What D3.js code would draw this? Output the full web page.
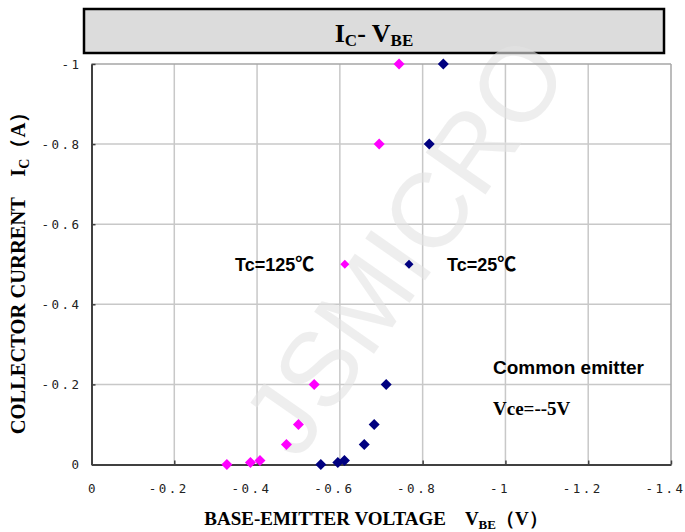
<!DOCTYPE html>
<html>
<head>
<meta charset="utf-8">
<script src="https://cdn.jsdelivr.net/npm/d3@7"></script>
<style>
  body { margin: 0; background: #fff; }
  svg { display: block; }
</style>
</head>
<body>
<svg id="chart"></svg>
<script>
// collector current (A) for each measured point
var icValues = [0, 0.005, 0.01, 0.05, 0.1, 0.2, 0.8, 1.0];
// base-emitter voltage (V) at Tc=125C and Tc=25C
var vbe125 = [0.327, 0.384, 0.407, 0.471, 0.5, 0.538, 0.695, 0.743];
var vbe25 = [0.554, 0.595, 0.611, 0.659, 0.683, 0.712, 0.816, 0.85];

// legend markers sit beside the labels
var legendItems = [
  { label: "Tc=125", vbe: 0.612, ic: 0.5, color: "#ff00ff" },
  { label: "Tc=25", vbe: 0.767, ic: 0.5, color: "#000080" }
];

var xTicks = [0, 0.2, 0.4, 0.6, 0.8, 1, 1.2, 1.4];
var xTickLabels = ["0", "-0.2", "-0.4", "-0.6", "-0.8", "-1", "-1.2", "-1.4"];
var yTicks = [0, 0.2, 0.4, 0.6, 0.8, 1];
var yTickLabels = ["0", "-0.2", "-0.4", "-0.6", "-0.8", "-1"];

var W = 685, H = 532;
var margin = { top: 64, right: 14, bottom: 67.5, left: 91.5 };
var w = W - margin.left - margin.right,
    h = H - margin.top - margin.bottom;

var serif = "'Liberation Serif', 'Times New Roman', serif";
var sans = "'Liberation Sans', Arial, sans-serif";

var svg = d3.select("#chart").attr("width", W).attr("height", H);

// title box
svg.append("rect")
  .attr("x", 84).attr("y", 9)
  .attr("width", 580).attr("height", 44)
  .attr("fill", "#dcdcdc")
  .attr("stroke", "#000")
  .attr("stroke-width", 2.5);

var title = svg.append("text")
  .attr("x", 374).attr("y", 42)
  .attr("text-anchor", "middle")
  .style("font-family", serif)
  .style("font-weight", "bold")
  .style("font-size", "26px");
title.append("tspan").text("I");
title.append("tspan").attr("dy", 4).style("font-size", "17px").text("C");
title.append("tspan").attr("dy", -4).text("- V");
title.append("tspan").attr("dy", 4).style("font-size", "17px").text("BE");

var x = d3.scaleLinear().domain([0, 1.4]).range([0, w]);
var y = d3.scaleLinear().domain([0, 1]).range([h, 0]);

var g = svg.append("g").attr("transform", `translate(${margin.left}, ${margin.top})`);

// grid
g.selectAll(".vgrid")
  .data(xTicks.slice(1, -1))
  .join("line")
  .attr("x1", d => x(d)).attr("x2", d => x(d))
  .attr("y1", 0).attr("y2", h)
  .attr("stroke", "#c8c8c8").attr("stroke-width", 1.5);

g.selectAll(".hgrid")
  .data(yTicks.slice(1, -1))
  .join("line")
  .attr("x1", 0).attr("x2", w)
  .attr("y1", d => y(d)).attr("y2", d => y(d))
  .attr("stroke", "#c8c8c8").attr("stroke-width", 1.5);

// watermark, behind the marks
svg.append("text")
  .attr("transform", "translate(298, 462) rotate(-55)")
  .style("font-family", sans)
  .style("font-size", "106px")
  .attr("fill", "#e4e4e4")
  .attr("opacity", 0.6)
  .text("JSMICRO");

// plot frame: top and right grey
var frame = svg.append("g").attr("transform", `translate(${margin.left}, ${margin.top})`);
frame.append("line").attr("x1", 0).attr("x2", w).attr("y1", 0).attr("y2", 0)
  .attr("stroke", "#a6a6a6").attr("stroke-width", 1.5);
frame.append("line").attr("x1", w).attr("x2", w).attr("y1", 0).attr("y2", h)
  .attr("stroke", "#a6a6a6").attr("stroke-width", 1.5);

// axes
var xAxis = frame.append("g")
  .attr("transform", `translate(0, ${h})`)
  .call(d3.axisBottom(x).tickValues(xTicks).tickSizeInner(-4).tickSizeOuter(0).tickFormat((d, i) => xTickLabels[i]));
var yAxis = frame.append("g")
  .call(d3.axisLeft(y).tickValues(yTicks).tickSizeInner(-4).tickSizeOuter(0).tickFormat((d, i) => yTickLabels[i]));

[xAxis, yAxis].forEach(function (a) {
  a.select(".domain").attr("stroke", "#404040").attr("stroke-width", 2);
  a.selectAll(".tick line").attr("stroke", "#404040").attr("stroke-width", 1.5);
  a.selectAll(".tick text")
    .style("font-family", "'DejaVu Sans Mono', monospace")
    .style("font-size", "12.5px")
    .style("letter-spacing", "2.5px")
    .attr("fill", "#222");
});
xAxis.selectAll(".tick text")
  .attr("y", 24)
  .attr("dy", "0.32em")
  .attr("x", (d, i) => xTickLabels[i].charAt(0) === "-" ? -6 : 1);
yAxis.selectAll(".tick text").attr("x", -10);

// points
function diamond(sel, r) {
  sel.attr("d", `M0,${-r}L${r},0L0,${r}L${-r},0Z`);
}
var marks = svg.append("g").attr("transform", `translate(${margin.left}, ${margin.top})`);
marks.selectAll(".p125")
  .data(icValues)
  .join("path")
  .attr("transform", (d, i) => `translate(${x(vbe125[i])}, ${y(d)})`)
  .call(diamond, 5.5)
  .attr("fill", "#ff00ff");
marks.selectAll(".p25")
  .data(icValues)
  .join("path")
  .attr("transform", (d, i) => `translate(${x(vbe25[i])}, ${y(d)})`)
  .call(diamond, 5.5)
  .attr("fill", "#000080");

// legend markers + labels
marks.selectAll(".leg")
  .data(legendItems)
  .join("path")
  .attr("transform", d => `translate(${x(d.vbe)}, ${y(d.ic)})`)
  .call(diamond, 4.5)
  .attr("fill", d => d.color);

var legX = [235, 447];
legendItems.forEach(function (d, i) {
  var t = svg.append("text").attr("x", legX[i]).attr("y", 271)
    .style("font-family", sans).style("font-weight", "bold").style("font-size", "18px");
  t.append("tspan").text(d.label);
  t.append("tspan").style("font-family", "'Noto Sans CJK SC', sans-serif")
    .style("font-weight", "bold").style("font-size", "19px").text("℃");
});

svg.append("text").attr("x", 493).attr("y", 374)
  .style("font-family", sans).style("font-weight", "bold").style("font-size", "19px")
  .text("Common emitter");
svg.append("text").attr("x", 493).attr("y", 415)
  .style("font-family", serif)
  .style("font-weight", "bold").style("font-size", "19px")
  .text("Vce=--5V");

// axis titles
var xt = svg.append("text")
  .attr("x", 376).attr("y", 525)
  .attr("text-anchor", "middle")
  .style("font-family", serif).style("font-weight", "bold").style("font-size", "19px");
xt.append("tspan").text("BASE-EMITTER VOLTAGE\u00a0\u00a0\u00a0\u00a0V");
xt.append("tspan").attr("dy", 4).style("font-size", "13px").text("BE");
xt.append("tspan").attr("dy", -4).text("（V）");

var yt = svg.append("text")
  .attr("transform", "translate(25, 268) rotate(-90)")
  .attr("text-anchor", "middle")
  .style("font-family", serif).style("font-weight", "bold").style("font-size", "20.5px");
yt.append("tspan").text("COLLECTOR CURRENT\u00a0\u00a0\u00a0\u00a0I");
yt.append("tspan").attr("dy", 4).style("font-size", "14px").text("C");
yt.append("tspan").attr("dy", -4).text("（A）");
</script>
</body>
</html>
